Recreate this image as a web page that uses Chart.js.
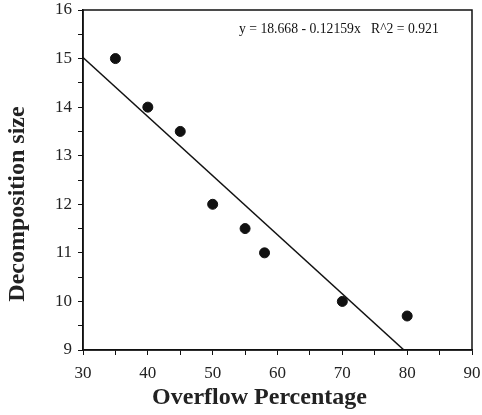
<!DOCTYPE html>
<html>
<head>
<meta charset="utf-8">
<script src="https://cdn.jsdelivr.net/npm/chart.js@4.4.1/dist/chart.umd.min.js"></script>
<style>
  html, body { margin: 0; padding: 0; background: #fff; }
  #wrap { width: 482px; height: 415px; }
</style>
</head>
<body>
<div id="wrap"><canvas id="chart" width="482" height="415"></canvas></div>
<script>
// data
const overflowPct = [35, 40, 45, 50, 55, 58, 70, 80];
const decompSize = [15, 14, 13.5, 12, 11.5, 11, 10, 9.7];
// regression line end points (y = 18.668 - 0.12159x)
const fitX = [30, 79.5];
const fitY = [15.02, 9.0];
const fitLabel = 'y = 18.668 - 0.12159x   R^2 = 0.921';

const serif = "'Liberation Serif', 'DejaVu Serif', serif";

// box round the plot + equation text
const framePlugin = {
    id: 'frame',
    afterDraw(chart) {
        const { ctx, chartArea: a } = chart;
        ctx.save();
        ctx.strokeStyle = '#111';
        ctx.lineWidth = 1.5;
        ctx.strokeRect(a.left, a.top, a.right - a.left, a.bottom - a.top);
        ctx.fillStyle = '#111';
        ctx.font = '13.7px ' + serif;
        ctx.textBaseline = 'middle';
        ctx.textAlign = 'left';
        ctx.fillText(fitLabel, a.left + 156, a.top + 19);
        ctx.restore();
    }
};

new Chart(document.getElementById('chart'), {
    type: 'scatter',
    data: {
        datasets: [
            {
                label: 'points',
                data: overflowPct.map((x, i) => ({ x: x, y: decompSize[i] })),
                backgroundColor: '#111',
                borderColor: '#111',
                pointRadius: 5,
                pointHoverRadius: 5
            },
            {
                label: 'fit',
                data: fitX.map((x, i) => ({ x: x, y: fitY[i] })),
                showLine: true,
                borderColor: '#111',
                borderWidth: 1.5,
                pointRadius: 0,
                fill: false
            }
        ]
    },
    options: {
        responsive: false,
        animation: false,
        layout: { padding: { top: 10, right: 10, left: 0, bottom: 0 } },
        plugins: {
            legend: { display: false },
            tooltip: { enabled: false }
        },
        scales: {
            x: {
                min: 30,
                max: 90,
                afterFit: s => {
                    s.height = 65;
                    s.paddingLeft = 0;
                    s.paddingRight = 0;
                },
                border: { display: true, color: '#111', width: 1.5 },
                grid: { drawOnChartArea: false, drawTicks: true, tickLength: 5, color: '#111' },
                ticks: {
                    stepSize: 5,
                    color: '#222',
                    padding: 8,
                    autoSkip: false,
                    maxRotation: 0,
                    font: { family: serif, size: 17 },
                    callback: v => (v % 10 === 0 ? v : '')
                },
                title: {
                    display: true,
                    // trailing spaces push the title a little left, as in the source
                    text: 'Overflow Percentage      ',
                    color: '#222',
                    padding: { top: 0, bottom: 3 },
                    font: { family: serif, size: 24, weight: 'bold' }
                }
            },
            y: {
                min: 9,
                max: 16,
                afterFit: s => {
                    s.width = 83;
                    s.paddingTop = 0;
                    s.paddingBottom = 0;
                },
                border: { display: true, color: '#111', width: 1.5 },
                grid: { drawOnChartArea: false, drawTicks: true, tickLength: 5, color: '#111' },
                ticks: {
                    stepSize: 0.5,
                    color: '#222',
                    padding: 6,
                    autoSkip: false,
                    font: { family: serif, size: 17 },
                    callback: v => (Number.isInteger(v) ? v : '')
                },
                title: {
                    display: true,
                    text: 'Decomposition size        ',
                    color: '#222',
                    padding: { top: 3, bottom: 6 },
                    font: { family: serif, size: 24, weight: 'bold' }
                }
            }
        }
    },
    plugins: [framePlugin]
});
</script>
</body>
</html>
